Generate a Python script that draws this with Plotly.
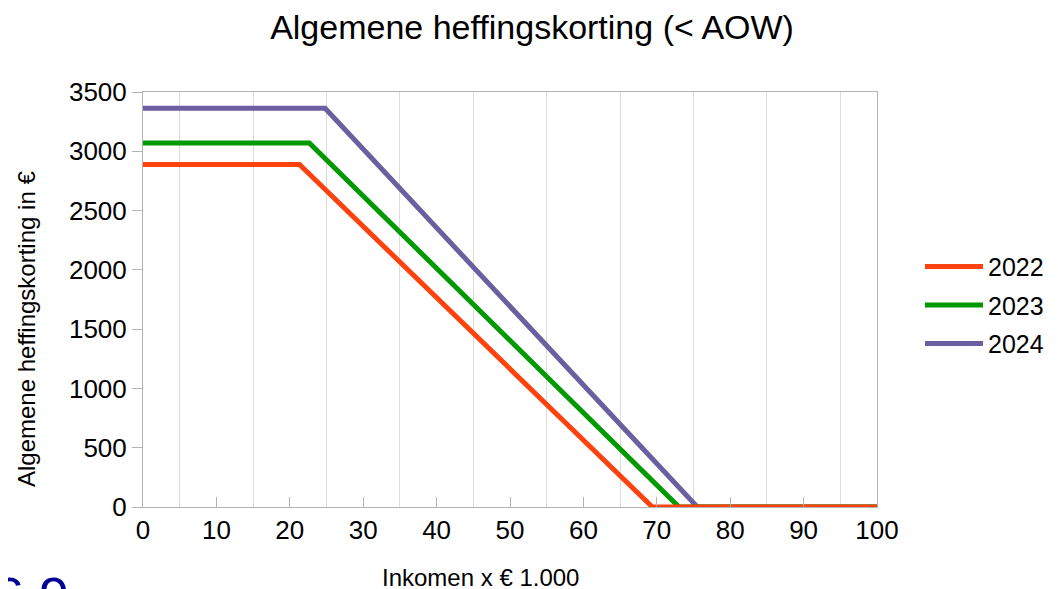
import plotly.graph_objects as go

# Data (income x 1000 euro, korting in euro)
years = ["2022", "2023", "2024"]
x_2022 = [0, 21.317, 69.398, 100]
y_2022 = [2888, 2888, 0, 0]
x_2023 = [0, 22.660, 73.031, 100]
y_2023 = [3070, 3070, 0, 0]
x_2024 = [0, 24.812, 75.518, 100]
y_2024 = [3362, 3362, 0, 0]
colors = {"2022": "#ff420e", "2023": "#009a00", "2024": "#6b5f9f"}

x_ticks = [0, 10, 20, 30, 40, 50, 60, 70, 80, 90, 100]
x_grid = [5, 15, 25, 35, 45, 55, 65, 75, 85, 95]
y_ticks = [0, 500, 1000, 1500, 2000, 2500, 3000, 3500]

series = {"2022": (x_2022, y_2022), "2023": (x_2023, y_2023), "2024": (x_2024, y_2024)}

FONT = "Liberation Sans, Arial, sans-serif"
fig = go.Figure()
for rank, yr in reversed(list(enumerate(years))):
    xs, ys = series[yr]
    fig.add_trace(go.Scatter(x=xs, y=ys, mode="lines", name=yr,
                             line=dict(color=colors[yr], width=5),
                             legendrank=rank + 1, legendgroup=yr))

axis_col = "#b3b3b3"
fig.update_layout(
    width=1058, height=589,
    margin=dict(l=135, r=189, t=84, b=90),
    paper_bgcolor="white", plot_bgcolor="white",
    font=dict(family=FONT, color="black"),
    title=dict(text="Algemene heffingskorting (< AOW)", x=0.4953, xref="container",
               xanchor="center", y=0.968, yanchor="middle",
               font=dict(size=34, family=FONT)),
    showlegend=True,
    legend=dict(x=912 / 1058.0, xref="container", y=0.486, yref="paper",
                xanchor="left", yanchor="middle",
                font=dict(size=25, family=FONT), tracegroupgap=3,
                itemwidth=58, bgcolor="rgba(0,0,0,0)"),
    xaxis=dict(range=[0, 100], tickvals=x_ticks, showgrid=False,
               ticks="inside", ticklen=10, tickcolor=axis_col, tickwidth=1,
               showline=True, linecolor=axis_col, linewidth=1, mirror=True,
               zeroline=False, tickfont=dict(size=26),
               minor=dict(tickvals=x_grid, showgrid=True, gridcolor="#dddddd",
                          gridwidth=1, ticks="")),
    yaxis=dict(range=[0, 3500], tickvals=y_ticks, showgrid=False,
               ticks="outside", ticklen=10, tickcolor=axis_col, tickwidth=1,
               showline=True, linecolor=axis_col, linewidth=1, mirror=True,
               zeroline=False, tickfont=dict(size=26)),
)

def px_x(p):
    return (p - 143) / 734.0

def px_y(p):
    return 1 - (p - 92) / 415.0

fig.add_annotation(text="Algemene heffingskorting in €", textangle=-90,
                   x=px_x(26), y=px_y(329), xref="paper", yref="paper",
                   xanchor="center", yanchor="middle",
                   showarrow=False, font=dict(size=24, family=FONT))
fig.add_annotation(text="Inkomen x € 1.000", x=px_x(480), y=px_y(577),
                   xref="paper", yref="paper", xanchor="center", yanchor="middle",
                   showarrow=False, font=dict(size=24, family=FONT))
fig.add_annotation(text="6.9", x=px_x(-8), y=px_y(564), xref="paper", yref="paper",
                   xanchor="left", yanchor="top", showarrow=False,
                   font=dict(size=54, family=FONT, color="#000099"))

fig.write_html("out.html")
